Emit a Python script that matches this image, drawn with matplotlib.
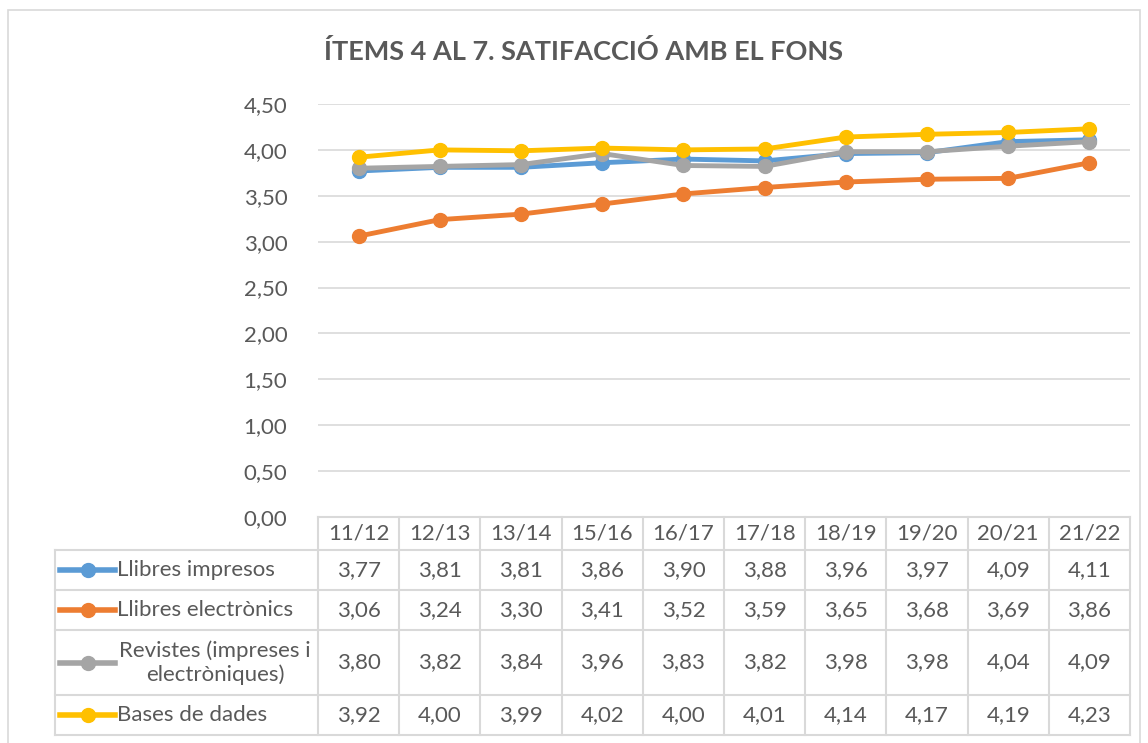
import numpy as np
import matplotlib.pyplot as plt
from matplotlib.patches import Rectangle
from matplotlib.lines import Line2D
import matplotlib.transforms as mtransforms

plt.rcParams['font.family'] = ['Lato', 'DejaVu Sans']

# data
cursos = ["11/12", "12/13", "13/14", "15/16", "16/17", "17/18", "18/19", "19/20", "20/21", "21/22"]
llibres_impresos = [3.77, 3.81, 3.81, 3.86, 3.90, 3.88, 3.96, 3.97, 4.09, 4.11]
llibres_electronics = [3.06, 3.24, 3.30, 3.41, 3.52, 3.59, 3.65, 3.68, 3.69, 3.86]
revistes = [3.80, 3.82, 3.84, 3.96, 3.83, 3.82, 3.98, 3.98, 4.04, 4.09]
bases_dades = [3.92, 4.00, 3.99, 4.02, 4.00, 4.01, 4.14, 4.17, 4.19, 4.23]

series_names = ["Llibres impresos", "Llibres electrònics", "Revistes (impreses i\nelectròniques)", "Bases de dades"]
series_values = [llibres_impresos, llibres_electronics, revistes, bases_dades]
colors = ["#5B9BD5", "#ED7D31", "#A5A5A5", "#FFC000"]
yticks = [0, 0.5, 1.0, 1.5, 2.0, 2.5, 3.0, 3.5, 4.0, 4.5]

txt = "#595959"
grid_c = "#D9D9D9"
fs = 16
W, H = 1148, 743

fig = plt.figure(figsize=(W / 100, H / 100), dpi=100)
# chart border
fig.patches.append(Rectangle((8 / W, -0.01), 1132 / W, 1 - 10 / H + 0.01, transform=fig.transFigure,
                             fill=False, edgecolor=grid_c, linewidth=1.2))

ax = fig.add_axes([318 / W, 1 - 517 / H, 812 / W, 413 / H])
x = np.arange(len(cursos))
for vals, c in zip(series_values, colors):
    ax.plot(x, vals, color=c, linewidth=3.5, marker='o', markersize=10, solid_capstyle='round')

ax.set_xlim(-0.5, len(cursos) - 0.5)
ax.set_ylim(0, 4.5)
ax.set_yticks(yticks)
ax.set_yticklabels([f"{v:.2f}".replace('.', ',') for v in yticks], color=txt, fontsize=fs)
ax.tick_params(axis='y', length=0, pad=22)
ax.set_xticks([])
ax.grid(axis='y', color=grid_c, linewidth=1.2)
ax.set_axisbelow(True)
for s in ax.spines.values():
    s.set_visible(False)

fig.text(583 / W, 1 - 52 / H, "ÍTEMS 4 AL 7. SATIFACCIÓ AMB EL FONS", ha='center', va='center',
         fontsize=19.5, fontweight='bold', color=txt)

# data table below the axis
tr = mtransforms.blended_transform_factory(ax.transData, ax.transAxes)
px = lambda p: (517 - p) / 413.0
rows = [px(517), px(550), px(590), px(630), px(695), px(735)]
unit = 81.2
left = -0.5 - (318 - 55) / unit
right = len(cursos) - 0.5

def hline(x0, x1, y):
    ax.add_line(Line2D([x0, x1], [y, y], transform=tr, color=grid_c, linewidth=1.5, clip_on=False))

def vline(xx, y0, y1):
    ax.add_line(Line2D([xx, xx], [y0, y1], transform=tr, color=grid_c, linewidth=1.5, clip_on=False))

hline(-0.5, right, rows[0])
for r in rows[1:]:
    hline(left, right, r)
vline(left, rows[1], rows[-1])
for k in range(len(cursos) + 1):
    vline(k - 0.5, rows[0], rows[-1])

for i, c in enumerate(cursos):
    ax.text(i, (rows[0] + rows[1]) / 2, c, transform=tr, ha='center', va='center', fontsize=fs, color=txt)

for j, (name, vals, c) in enumerate(zip(series_names, series_values, colors)):
    yc = (rows[j + 1] + rows[j + 2]) / 2
    for i, v in enumerate(vals):
        ax.text(i, yc, f"{v:.2f}".replace('.', ','), transform=tr, ha='center', va='center',
                fontsize=fs, color=txt)
    lx0 = left + 5 / unit
    lx1 = left + 60 / unit
    ax.add_line(Line2D([lx0, lx1], [yc, yc], transform=tr, color=c, linewidth=4, clip_on=False))
    ax.add_line(Line2D([(lx0 + lx1) / 2], [yc], transform=tr, color=c, marker='o', markersize=10,
                       clip_on=False))
    if '\n' in name:
        ax.text(left + 160 / unit, yc, name, transform=tr, ha='center', va='center', fontsize=fs,
                color=txt, multialignment='center', linespacing=1.2)
    else:
        ax.text(left + 62 / unit, yc, name, transform=tr, ha='left', va='center', fontsize=fs, color=txt)

fig.savefig("out.png", dpi=100)
